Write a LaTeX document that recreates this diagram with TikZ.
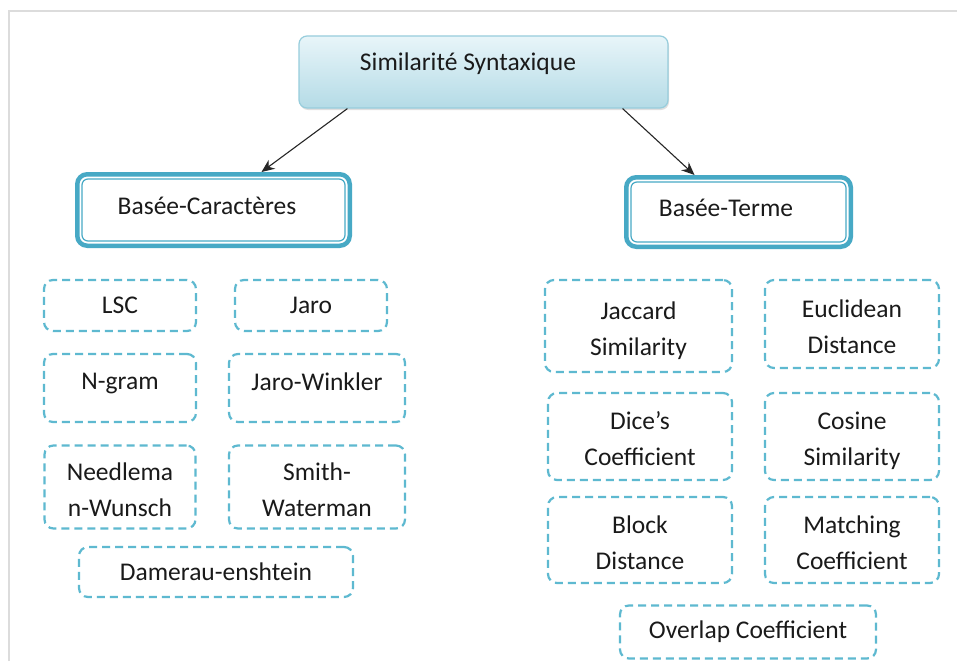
\documentclass[tikz,border=0pt]{standalone}
\usepackage{fontspec}
\setmainfont{Carlito}
\usetikzlibrary{arrows.meta,shadows}
\definecolor{frameg}{HTML}{DCDCDC}
\definecolor{dashc}{HTML}{5EB9D0}
\definecolor{thickc}{HTML}{47A9C5}
\definecolor{topA}{HTML}{E8F5F9}
\definecolor{topB}{HTML}{B4DBE6}
\definecolor{topE}{HTML}{97CDDC}
\definecolor{inkc}{HTML}{1A1A1A}
\begin{document}
\begin{tikzpicture}[x=1pt,y=-1pt,
  lbl/.style={font=\fontsize{25.5}{36}\selectfont, text=inkc, align=center, inner sep=0pt},
  dbox/.style={lbl, draw=dashc, line width=2.2pt, dash pattern=on 8pt off 5pt, rounded corners=9pt},
  twoline/.style={text height=58pt, text depth=0pt},
  lifted/.style={text depth=13.5pt},
  catbox/.style={lbl, draw=thickc, line width=4.5pt, rounded corners=10pt, fill=white},
  rootbox/.style={draw=topE, line width=1.2pt, rounded corners=8pt, top color=topA, bottom color=topB,
    drop shadow={shadow xshift=1pt, shadow yshift=-2pt, opacity=0.25}},
  link/.style={-{Stealth[length=13pt,width=11pt]}, line width=1.1pt, black!85}
]
\useasboundingbox (0,0) rectangle (957,661);
\fill[white] (0,0) rectangle (957,661);
\draw[frameg, line width=2pt] (9,661) -- (9,11) -- (957,11);

% root
\node[rootbox, minimum width=369pt, minimum height=72pt] (root) at (483.5,72) {};
\node[lbl] (rootlbl) at (468,64) {Similarité Syntaxique};

% categories
\node[catbox, minimum width=272.5pt, minimum height=71.5pt] (bc) at (213.5,210) {};
\node[lbl] (bclbl) at (207,206) {Basée-Caractères};
\draw[thickc, line width=1.2pt, rounded corners=6pt]
  ([shift={(7,7)}]bc.north west) rectangle ([shift={(-7,-7)}]bc.south east);

\node[catbox, minimum width=224.5pt, minimum height=69.5pt] (bt) at (738.5,212) {};
\node[lbl] (btlbl) at (726,208) {Basée-Terme};
\draw[thickc, line width=1.2pt, rounded corners=6pt]
  ([shift={(7,7)}]bt.north west) rectangle ([shift={(-7,-7)}]bt.south east);

\draw[link] ([xshift=49pt]root.south west) -- ([xshift=48pt]bc.north);
\draw[link] ([xshift=-46pt]root.south east) -- ([xshift=-44pt]bt.north);

% character-based measures
\node[dbox, minimum width=152pt, minimum height=51pt] (lsc) at (120,305.5) {LSC};
\node[dbox, minimum width=152pt, minimum height=51pt] (jaro) at (311,305.5) {Jaro};
\node[dbox, lifted, minimum width=152pt, minimum height=68pt] (ngram) at (120,388) {N-gram};
\node[dbox, lifted, minimum width=176pt, minimum height=68pt] (jw) at (317,388) {Jaro-Winkler};
\node[dbox, twoline, minimum width=151pt, minimum height=83pt] (nw) at (120,487) {Needlema\\n-Wunsch};
\node[dbox, twoline, minimum width=176pt, minimum height=83pt] (sw) at (317,487) {Smith-\\Waterman};
\node[dbox, minimum width=274pt, minimum height=50pt] (dl) at (216,572) {Damerau-enshtein};

% term-based measures
\node[dbox, twoline, minimum width=187pt, minimum height=92pt] (jac) at (638.5,326) {Jaccard\\Similarity};
\node[dbox, twoline, minimum width=174pt, minimum height=88pt] (euc) at (852,324) {Euclidean\\Distance};
\node[dbox, twoline, minimum width=184pt, minimum height=87pt] (dice) at (640,436.5) {Dice’s\\Coefficient};
\node[dbox, twoline, minimum width=174pt, minimum height=87pt] (cos) at (852,436.5) {Cosine\\Similarity};
\node[dbox, twoline, minimum width=184pt, minimum height=86pt] (blk) at (640,540) {Block\\Distance};
\node[dbox, twoline, minimum width=174pt, minimum height=86pt] (mat) at (852,540) {Matching\\Coefficient};
\node[dbox, minimum width=256pt, minimum height=53pt] (ovl) at (748,632) {Overlap Coefficient};
\end{tikzpicture}
\end{document}
